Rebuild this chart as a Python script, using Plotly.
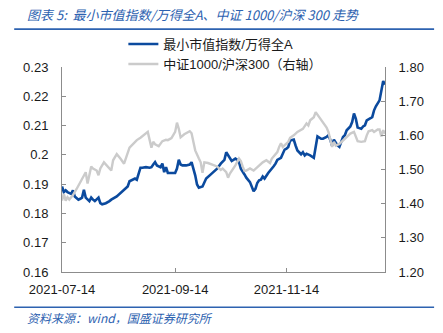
import plotly.graph_objects as go

blue_dates = ["2021-07-14","2021-07-15","2021-07-16","2021-07-17","2021-07-19","2021-07-20","2021-07-21","2021-07-23","2021-07-24","2021-07-25","2021-07-26","2021-07-27","2021-07-29","2021-07-30","2021-07-31",
"2021-08-01","2021-08-03","2021-08-04","2021-08-05","2021-08-07","2021-08-09","2021-08-10","2021-08-13","2021-08-15","2021-08-17","2021-08-19","2021-08-20","2021-08-22","2021-08-23","2021-08-24","2021-08-25","2021-08-26","2021-08-27","2021-08-29","2021-08-31",
"2021-09-01","2021-09-02","2021-09-03","2021-09-04","2021-09-06","2021-09-07","2021-09-08","2021-09-09","2021-09-10","2021-09-12","2021-09-14","2021-09-15","2021-09-16","2021-09-17","2021-09-18","2021-09-20","2021-09-22","2021-09-23","2021-09-24","2021-09-25","2021-09-26","2021-09-27","2021-09-29","2021-09-30",
"2021-10-01","2021-10-04","2021-10-07","2021-10-09","2021-10-11","2021-10-12","2021-10-13","2021-10-14","2021-10-15","2021-10-17","2021-10-18","2021-10-19","2021-10-20","2021-10-22","2021-10-23","2021-10-25","2021-10-26","2021-10-27","2021-10-28","2021-10-29","2021-10-30","2021-10-31",
"2021-11-01","2021-11-02","2021-11-04","2021-11-05","2021-11-07","2021-11-08","2021-11-09","2021-11-11","2021-11-12","2021-11-13","2021-11-14","2021-11-15","2021-11-16","2021-11-18","2021-11-19","2021-11-20","2021-11-22","2021-11-23","2021-11-24","2021-11-25","2021-11-27","2021-11-29","2021-11-30",
"2021-12-01","2021-12-03","2021-12-04","2021-12-06","2021-12-07","2021-12-08","2021-12-09","2021-12-10","2021-12-11","2021-12-12","2021-12-13","2021-12-15","2021-12-16","2021-12-17","2021-12-19","2021-12-20","2021-12-21","2021-12-22","2021-12-23","2021-12-25","2021-12-26","2021-12-27","2021-12-28","2021-12-30","2021-12-31",
"2022-01-01","2022-01-02","2022-01-04","2022-01-05","2022-01-06","2022-01-07"]
blue_values = [0.1892,0.1873,0.1879,0.1873,0.1867,0.1879,0.1858,0.1847,0.1850,0.1854,0.1881,0.1854,0.1842,0.1854,0.1847,
0.1842,0.1854,0.1835,0.1831,0.1835,0.1842,0.1847,0.1858,0.1869,0.1881,0.1892,0.1910,0.1915,0.1919,0.1915,0.1936,0.1956,0.1956,0.1958,0.1956,
0.1958,0.1967,0.1975,0.1964,0.1958,0.1970,0.1941,0.1958,0.1938,0.1938,0.1938,0.1953,0.1983,0.1967,0.1964,0.1964,0.1967,0.1975,0.1953,0.1930,0.1899,0.1888,0.1892,0.1907,
0.1919,0.1936,0.1953,0.1970,0.1983,0.2009,0.1998,0.1992,0.1979,0.1987,0.1983,0.1975,0.1953,0.1933,0.1922,0.1907,0.1892,0.1876,0.1884,0.1904,0.1913,0.1915,
0.1926,0.1919,0.1938,0.1945,0.1961,0.1970,0.1983,0.1990,0.2002,0.2018,0.2021,0.2027,0.2049,0.2052,0.2032,0.2015,0.2002,0.2009,0.1998,0.2004,0.1998,0.1990,0.2027,
0.2063,0.2055,0.2055,0.2061,0.2067,0.2052,0.2032,0.2052,0.2040,0.2032,0.2027,0.2061,0.2067,0.2084,0.2097,0.2112,0.2141,0.2124,0.2093,0.2089,0.2097,0.2101,0.2118,0.2124,0.2129,
0.2152,0.2166,0.2186,0.2220,0.2252,0.2240]

gray_dates = ["2021-07-14","2021-07-15","2021-07-16","2021-07-17","2021-07-18","2021-07-20","2021-07-22","2021-07-24","2021-07-26","2021-07-27","2021-07-28","2021-07-29","2021-07-30","2021-07-31",
"2021-08-02","2021-08-03","2021-08-04","2021-08-06","2021-08-08","2021-08-10","2021-08-11","2021-08-13","2021-08-15","2021-08-17","2021-08-20","2021-08-21","2021-08-23","2021-08-24","2021-08-26","2021-08-27","2021-08-28","2021-08-30",
"2021-09-01","2021-09-02","2021-09-03","2021-09-05","2021-09-07","2021-09-09","2021-09-10","2021-09-12","2021-09-14","2021-09-15","2021-09-16","2021-09-17","2021-09-19","2021-09-22","2021-09-23","2021-09-25","2021-09-27","2021-09-28","2021-09-29","2021-09-30",
"2021-10-02","2021-10-05","2021-10-07","2021-10-09","2021-10-10","2021-10-12","2021-10-13","2021-10-14","2021-10-16","2021-10-17","2021-10-19","2021-10-20","2021-10-21","2021-10-22","2021-10-23","2021-10-25","2021-10-27","2021-10-29","2021-10-30",
"2021-11-01","2021-11-03","2021-11-05","2021-11-06","2021-11-08","2021-11-09","2021-11-10","2021-11-11","2021-11-12","2021-11-14","2021-11-15","2021-11-16","2021-11-18","2021-11-20","2021-11-22","2021-11-23","2021-11-25","2021-11-26","2021-11-27","2021-11-29","2021-11-30",
"2021-12-02","2021-12-03","2021-12-04","2021-12-06","2021-12-07","2021-12-08","2021-12-09","2021-12-10","2021-12-11","2021-12-13","2021-12-14","2021-12-16","2021-12-18","2021-12-19","2021-12-21","2021-12-22","2021-12-23","2021-12-25","2021-12-27","2021-12-28","2021-12-29","2021-12-31",
"2022-01-01","2022-01-03","2022-01-04","2022-01-05","2022-01-06","2022-01-07"]
gray_values = [1.409,1.429,1.409,1.419,1.412,1.425,1.443,1.463,1.483,1.492,1.459,1.488,1.509,1.503,
1.497,1.483,1.503,1.521,1.509,1.497,1.527,1.545,1.532,1.517,1.564,1.570,1.581,1.586,1.593,1.597,1.603,1.610,
1.564,1.581,1.574,1.568,1.583,1.587,1.586,1.592,1.610,1.637,1.619,1.594,1.603,1.612,1.606,1.556,1.532,1.521,1.490,1.521,
1.519,1.514,1.509,1.499,1.503,1.492,1.476,1.488,1.503,1.512,1.532,1.525,1.509,1.496,1.497,1.503,1.497,1.507,1.512,
1.521,1.527,1.519,1.532,1.545,1.551,1.566,1.577,1.566,1.575,1.581,1.593,1.600,1.610,1.615,1.619,1.635,1.629,1.644,1.653,1.668,
1.653,1.644,1.635,1.623,1.610,1.586,1.566,1.581,1.570,1.575,1.581,1.590,1.600,1.605,1.610,1.597,1.583,1.581,1.583,1.600,1.612,1.615,
1.610,1.617,1.617,1.597,1.615,1.605]

series_names = ["最小市值指数/万得全A", "中证1000/沪深300（右轴）"]
x_tick_vals = ["2021-07-14", "2021-09-14", "2021-11-14"]
x_tick_text = ["2021-07-14", "2021-09-14", "2021-11-14"]
left_ticks = [0.16, 0.17, 0.18, 0.19, 0.20, 0.21, 0.22, 0.23]
left_tick_text = ["0.16", "0.17", "0.18", "0.19", "0.2", "0.21", "0.22", "0.23"]
right_ticks = [1.20, 1.30, 1.40, 1.50, 1.60, 1.70, 1.80]
right_tick_text = ["1.20", "1.30", "1.40", "1.50", "1.60", "1.70", "1.80"]

title_text = "图表 5:  最小市值指数/万得全A、中证 1000/沪深 300 走势"
source_text = "资料来源：wind，国盛证券研究所"

BLUE = "#0B4A9E"
GRAY = "#CBCBCB"
ACCENT = "#2D62B0"
FONT = "Liberation Sans, Noto Sans CJK SC, sans-serif"

fig = go.Figure()
fig.add_trace(go.Scatter(x=gray_dates, y=gray_values, mode="lines", name=series_names[1],
                         line=dict(color=GRAY, width=2.4), yaxis="y2"))
fig.add_trace(go.Scatter(x=blue_dates, y=blue_values, mode="lines", name=series_names[0],
                         line=dict(color=BLUE, width=2.6), yaxis="y"))

axis_col = "#8C8C8C"
fig.update_layout(
    width=443, height=333,
    margin=dict(l=62, r=58, t=67, b=61, pad=0),
    paper_bgcolor="white", plot_bgcolor="white",
    font=dict(family=FONT, size=13, color="#1a1a1a"),
    showlegend=True,
    legend=dict(x=0.19, y=1.185, xanchor="left", yanchor="top", traceorder="reversed",
                bgcolor="rgba(0,0,0,0)", font=dict(size=13, color="#1a1a1a"),
                itemwidth=30, tracegroupgap=0),
    xaxis=dict(type="date", range=["2021-07-14", "2022-01-07"],
               tickvals=x_tick_vals, ticktext=x_tick_text,
               showgrid=False, zeroline=False, showline=True, linecolor=axis_col, linewidth=1,
               ticks="inside", ticklen=4, tickcolor=axis_col, ticklabelstandoff=5,
               tickfont=dict(size=13, color="#1a1a1a")),
    yaxis=dict(range=[0.16, 0.23], tickvals=left_ticks, ticktext=left_tick_text,
               showgrid=False, zeroline=False, showline=True, linecolor=axis_col, linewidth=1,
               ticks="inside", ticklen=4, tickcolor=axis_col, ticklabelstandoff=10,
               tickfont=dict(size=13, color="#1a1a1a")),
    yaxis2=dict(range=[1.20, 1.80], tickvals=right_ticks, ticktext=right_tick_text,
                overlaying="y", side="right",
                showgrid=False, zeroline=False, showline=True, linecolor=axis_col, linewidth=1,
                ticks="inside", ticklen=4, tickcolor=axis_col, ticklabelstandoff=10,
                tickfont=dict(size=13, color="#1a1a1a")),
    shapes=[
        dict(type="line", xref="paper", yref="paper", x0=-0.148, x1=1.152, y0=1.185, y1=1.185,
             line=dict(color=ACCENT, width=1.6)),
        dict(type="line", xref="paper", yref="paper", x0=-0.148, x1=1.152, y0=-0.172, y1=-0.172,
             line=dict(color=ACCENT, width=1.6)),
    ],
    annotations=[
        dict(text="<i>" + title_text + "</i>", xref="paper", yref="paper", x=-0.115, y=1.255,
             xanchor="left", yanchor="middle", showarrow=False,
             font=dict(size=13, color=ACCENT, family="Noto Sans CJK SC, Liberation Sans, sans-serif")),
        dict(text="<i>" + source_text + "</i>", xref="paper", yref="paper", x=-0.115, y=-0.22,
             xanchor="left", yanchor="middle", showarrow=False,
             font=dict(size=12, color=ACCENT, family="Noto Sans CJK SC, Liberation Sans, sans-serif")),
    ],
)

fig.write_html("out.html")
